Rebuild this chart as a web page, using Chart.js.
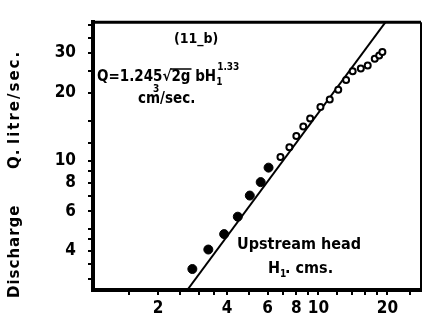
<!DOCTYPE html>
<html><head><meta charset="utf-8">
<script src="https://cdn.jsdelivr.net/npm/chart.js@4/dist/chart.umd.min.js"></script>
<style>html,body{margin:0;padding:0;background:#fff;overflow:hidden}</style>
</head><body>
<canvas id="c" width="427" height="326"></canvas>
<script>
// Upstream head H1 (cm) and discharge Q (litre/sec)
const filledH = [2.82, 3.31, 3.88, 4.45, 5.02, 5.60, 6.06];
const filledQ = [3.33, 4.06, 4.75, 5.67, 7.03, 8.06, 9.34];
const openH = [6.83, 7.47, 8.01, 8.59, 9.20, 10.2, 11.2, 12.2, 13.2, 14.1, 15.3, 16.4, 17.6, 18.4, 19.0];
const openQ = [10.4, 11.5, 12.9, 14.2, 15.4, 17.3, 18.7, 20.6, 22.8, 24.9, 25.6, 26.4, 28.3, 29.2, 30.3];
// fitted line Q = 1.245 sqrt(2g) b H1^1.33 (end points)
const fitH = [2.68, 19.6];
const fitQ = [2.69, 41];
// axis ticks
const xTickValues = [1.5, 2, 2.5, 3, 3.5, 4, 5, 6, 7, 8, 9, 10, 12, 14, 16, 18, 20, 25];
const xTickLabels = {2: '2', 4: '4', 6: '6', 8: '8', 10: '10', 20: '20'};
const yTickValues = [3, 3.5, 4, 4.5, 5, 6, 7, 8, 9, 10, 12, 15, 20, 25, 30, 35, 40];
const yTickLabels = {4: '4', 6: '6', 8: '8', 10: '10', 20: '20', 30: '30'};

const FONT = '"DejaVu Sans Condensed", "Liberation Sans Narrow", "DejaVu Sans", sans-serif';
const WIDE = '"DejaVu Sans", sans-serif';

const toPts = (xs, ys) => xs.map((x, i) => ({x: x, y: ys[i]}));

const annot = {
  id: 'annot',
  afterDraw(chart) {
    const ctx = chart.ctx;
    const a = chart.chartArea;
    ctx.save();
    ctx.strokeStyle = '#000';
    // top and right frame
    ctx.lineWidth = 3;
    ctx.beginPath(); ctx.moveTo(a.left - 1.5, a.top); ctx.lineTo(a.right, a.top); ctx.stroke();
    ctx.lineWidth = 2;
    ctx.beginPath(); ctx.moveTo(a.right, a.top); ctx.lineTo(a.right, a.bottom); ctx.stroke();
    ctx.fillStyle = '#000';
    ctx.textBaseline = 'alphabetic';
    ctx.textAlign = 'left';
    ctx.font = 'bold 14px ' + FONT;
    ctx.fillText('(11_b)', 174, 43);
    // formula
    ctx.font = 'bold 15px ' + FONT;
    let x = 97, y = 81;
    const p1 = 'Q=1.245\u221A';
    ctx.fillText(p1, x, y);
    x += ctx.measureText(p1).width;
    const p2 = '2g';
    ctx.fillText(p2, x, y);
    const w2 = ctx.measureText(p2).width;
    ctx.lineWidth = 1.5;
    ctx.beginPath(); ctx.moveTo(x - 1, y - 12); ctx.lineTo(x + w2 + 1, y - 12); ctx.stroke();
    x += w2;
    const p3 = ' bH';
    ctx.fillText(p3, x, y);
    x += ctx.measureText(p3).width;
    ctx.font = 'bold 10px ' + FONT;
    ctx.fillText('1', x, y + 4);
    ctx.fillText('1.33', x + 1, y - 11);
    // units
    ctx.font = 'bold 15px ' + FONT;
    x = 138; y = 103;
    ctx.fillText('cm', x, y);
    const wcm = ctx.measureText('cm').width;
    ctx.font = 'bold 10px ' + FONT;
    ctx.fillText('3', x + wcm - 7, y - 11);
    ctx.font = 'bold 15px ' + FONT;
    ctx.fillText('/sec.', x + wcm, y);
    // x axis title inside plot
    ctx.font = 'bold 16px ' + FONT;
    ctx.fillText('Upstream head', 237, 249);
    ctx.fillText('H', 268, 273);
    const wH = ctx.measureText('H').width;
    ctx.font = 'bold 10px ' + FONT;
    ctx.fillText('1', 268 + wH, 277);
    ctx.font = 'bold 16px ' + FONT;
    ctx.fillText('. cms.', 268 + wH + 5, 273);
    // y axis title
    ctx.translate(19, 298);
    ctx.rotate(-Math.PI / 2);
    ctx.font = 'bold 15px ' + WIDE;
    ctx.letterSpacing = '1px';
    ctx.fillText('Discharge', 0, 0);
    ctx.fillText('Q.', 129, 0);
    ctx.letterSpacing = '2px';
    ctx.fillText('litre/sec.', 154, 0);
    ctx.restore();
  }
};

new Chart(document.getElementById('c'), {
  type: 'scatter',
  data: {
    datasets: [
      {data: toPts(filledH, filledQ), pointRadius: 4.5, pointBackgroundColor: '#000', pointBorderColor: '#000', pointBorderWidth: 1, showLine: false},
      {data: toPts(openH, openQ), pointRadius: 3, pointBackgroundColor: '#fff', pointBorderColor: '#000', pointBorderWidth: 2, showLine: false},
      {data: toPts(fitH, fitQ), showLine: true, borderColor: '#000', borderWidth: 2, pointRadius: 0}
    ]
  },
  options: {
    responsive: false,
    animation: false,
    devicePixelRatio: 1,
    layout: {padding: {left: 0, right: 3, top: 12, bottom: 0}},
    plugins: {legend: {display: false}, tooltip: {enabled: false}},
    scales: {
      x: {
        type: 'logarithmic', min: 1.04, max: 28,
        afterBuildTicks: s => { s.ticks = xTickValues.map(v => ({value: v})); },
        afterFit: s => { s.height = 36; },
        border: {color: '#000', width: 4},
        grid: {drawOnChartArea: false, drawTicks: true, tickLength: 5, color: '#000', lineWidth: 2},
        ticks: {color: '#000', padding: 3, maxRotation: 0, autoSkip: false,
          font: {family: FONT, size: 17, weight: 'bold'},
          callback: v => xTickLabels[v] || ''}
      },
      y: {
        type: 'logarithmic', min: 2.69, max: 41,
        afterBuildTicks: s => { s.ticks = yTickValues.map(v => ({value: v})); },
        afterFit: s => { s.width = 93; },
        border: {color: '#000', width: 4},
        grid: {drawOnChartArea: false, drawTicks: true, tickLength: 5, color: '#000', lineWidth: 2},
        ticks: {color: '#000', padding: 12, autoSkip: false,
          font: {family: FONT, size: 17, weight: 'bold'},
          callback: v => yTickLabels[v] || ''}
      }
    }
  },
  plugins: [annot]
});
</script>
</body></html>
